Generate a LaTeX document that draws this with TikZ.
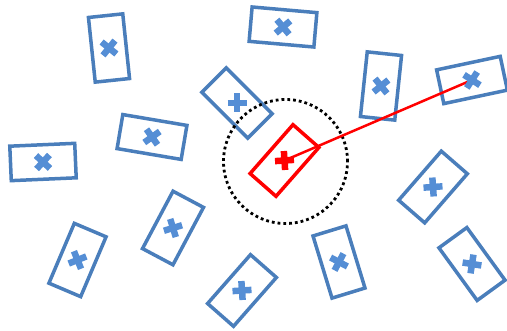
\documentclass[tikz,border=0pt]{standalone}
\usetikzlibrary{calc}
\definecolor{cardblue}{RGB}{74,126,187}
\definecolor{markblue}{RGB}{85,142,213}
\definecolor{hot}{RGB}{255,0,0}
\tikzset{
  card/.style={draw=cardblue, line width=3.5pt, rectangle, inner sep=0pt, outer sep=0pt,
    minimum width=65pt, minimum height=34.5pt},
  hotcard/.style={card, draw=hot},
  xmark/.pic={
    \draw[line width=6.5pt, line cap=butt, pic actions] (-9.5,0) -- (9.5,0);
    \draw[line width=6.5pt, line cap=butt, pic actions] (0,-9.5) -- (0,9.5);
  },
  ring/.style={draw=black, line width=2.8pt, dash pattern=on 2.8pt off 3pt},
  link/.style={draw=hot, line width=2.5pt}
}
\begin{document}
\begin{tikzpicture}[x=1pt, y=-1pt]
\useasboundingbox (0,0) rectangle (507,331);
% blue cards
\node[card, rotate=96]   (c1)  at (109,48)  {};
\node[card, rotate=-5]   (c2)  at (283,27)  {};
\node[card, rotate=-45]  (c3)  at (237,103) {};
\node[card, rotate=84]   (c4)  at (381,86)  {};
\node[card, rotate=12]   (c5)  at (472,80)  {};
\node[card, rotate=2.5]  (c6)  at (43,162)  {};
\node[card, rotate=-9.6] (c7)  at (152,137) {};
\node[card, rotate=67]   (c8)  at (77.5,260) {};
\node[card, rotate=62]   (c9)  at (173,228) {};
\node[card, rotate=48.7] (c10) at (242,290.5) {};
\node[card, rotate=107]  (c11) at (339,262) {};
\node[card, rotate=49]   (c12) at (433,187) {};
\node[card, rotate=-54]  (c13) at (472,264) {};
% red card
\node[hotcard, rotate=48.7] (r) at (284.5,160.5) {};
% dotted circle
\node[ring, circle, minimum size=124pt, inner sep=0pt] (zone) at (285.5,161.5) {};
% link
\draw[link] (r.center) -- (c5.center);
% marks
\foreach \n/\a in {c1/96, c2/-5, c3/-45, c4/84, c5/12, c6/2.5, c7/-9.6, c8/67, c9/62, c10/48.7, c11/107, c12/49, c13/-54}{
  \pic[draw=markblue, rotate=\a+45] at (\n.center) {xmark};
}
\pic[draw=hot, rotate=48.7+45] at (r.center) {xmark};
\end{tikzpicture}
\end{document}
